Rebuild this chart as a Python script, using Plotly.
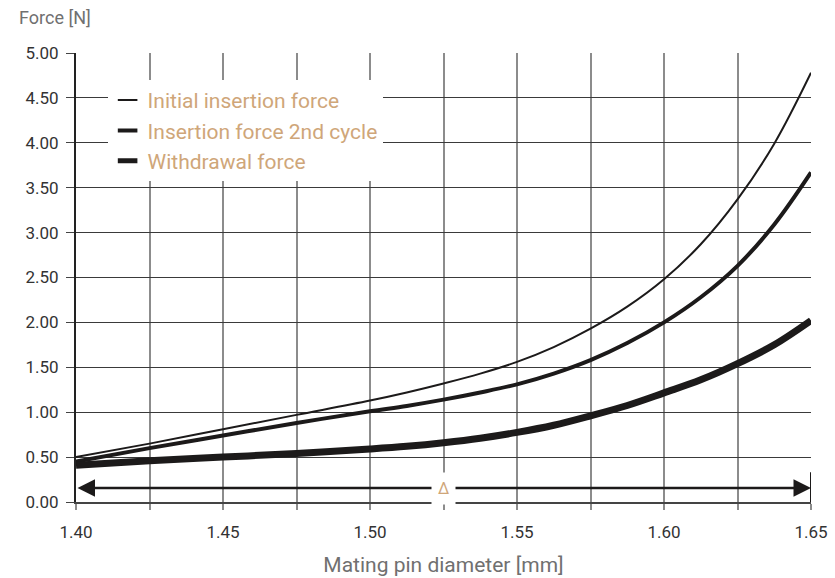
import plotly.graph_objects as go

diameter = [1.400, 1.425, 1.450, 1.475, 1.500, 1.5125, 1.525, 1.5375, 1.550, 1.5625,
            1.575, 1.5875, 1.600, 1.6125, 1.625, 1.6375, 1.650]
initial_insertion = [0.50, 0.65, 0.81, 0.97, 1.13, 1.22, 1.32, 1.43, 1.56, 1.725,
                     1.93, 2.175, 2.48, 2.87, 3.37, 3.99, 4.78]
insertion_2nd = [0.45, 0.60, 0.74, 0.88, 1.01, 1.07, 1.14, 1.22, 1.31, 1.43,
                 1.58, 1.77, 2.00, 2.28, 2.63, 3.09, 3.67]
withdrawal = [0.41, 0.46, 0.50, 0.54, 0.59, 0.62, 0.66, 0.71, 0.775, 0.855,
              0.96, 1.075, 1.215, 1.36, 1.54, 1.75, 2.02]

series_names = ["Initial insertion force", "Insertion force 2nd cycle", "Withdrawal force"]
x_ticks = [1.40, 1.45, 1.50, 1.55, 1.60, 1.65]
y_ticks = [0.0, 0.5, 1.0, 1.5, 2.0, 2.5, 3.0, 3.5, 4.0, 4.5, 5.0]
delta_range = [1.40, 1.65]

LINE = "#1c1a1a"
TAN = "#cfa679"
FONT = "Roboto, Liberation Sans, sans-serif"

fig = go.Figure()
widths = [2, 4, 7]
for name, ys, w in zip(series_names, [initial_insertion, insertion_2nd, withdrawal], widths):
    fig.add_trace(go.Scatter(x=diameter, y=ys, mode="lines", name=name,
                             line=dict(color=LINE, width=w, shape="spline", smoothing=1.0),
                             showlegend=False, hoverinfo="skip"))
for name, w in zip(series_names, [2, 4, 6]):
    fig.add_trace(go.Scatter(x=[None], y=[None], mode="markers", name=name,
                             marker=dict(symbol="line-ew", size=14, color=LINE,
                                         line=dict(color=LINE, width=w)),
                             showlegend=True))

# delta arrow
fig.add_annotation(x=delta_range[1], y=0.155, ax=delta_range[0], ay=0.155,
                   xref="x", yref="y", axref="x", ayref="y", text="",
                   showarrow=True, arrowhead=2, arrowside="end+start",
                   arrowsize=1.4, arrowwidth=2.5, arrowcolor=LINE)
fig.add_annotation(x=(delta_range[0] + delta_range[1]) / 2, y=0.155, xref="x", yref="y",
                   text="Δ", showarrow=False, bgcolor="white", borderpad=6,
                   font=dict(family=FONT, size=16, color=TAN))
fig.add_shape(type="line", x0=delta_range[1], x1=delta_range[1], y0=-0.07, y1=0.33,
              xref="x", yref="y", line=dict(color=LINE, width=2))

fig.add_annotation(x=0, y=1, xref="paper", yref="paper", xanchor="left", yanchor="top",
                   text="Force [N]", showarrow=False, xshift=-59, yshift=48,
                   font=dict(family=FONT, size=18, color="#707070"))

fig.update_layout(
    width=835, height=578,
    margin=dict(l=76, r=24, t=53, b=76),
    plot_bgcolor="white", paper_bgcolor="white",
    font=dict(family=FONT, size=17, color="#333333"),
    legend=dict(x=0.043, y=0.94, xanchor="left", yanchor="top",
                bgcolor="white", borderwidth=0, tracegroupgap=0,
                font=dict(family=FONT, size=21, color=TAN),
                itemsizing="trace"),
    xaxis=dict(range=[1.40, 1.65], tickvals=x_ticks, tickformat=".2f",
               showgrid=True, gridcolor="#8c8c8c", gridwidth=1.5,
               ticks="outside", ticklen=6, tickcolor="#8c8c8c", tickwidth=1.5,
               ticklabelstandoff=8,
               minor=dict(dtick=0.025, tick0=1.40, showgrid=True, gridcolor="#8c8c8c",
                          gridwidth=1.5, ticks="outside", ticklen=6, tickcolor="#8c8c8c"),
               showline=True, linecolor="#444444", linewidth=1.5, zeroline=False,
               automargin=False,
               title=dict(text="Mating pin diameter [mm]", standoff=16,
                          font=dict(family=FONT, size=21, color="#707070")),
               tickfont=dict(family=FONT, size=17, color="#333333")),
    yaxis=dict(range=[0, 5.0], tickvals=y_ticks, tickformat=".2f",
               showgrid=True, gridcolor="#3a3a3a", gridwidth=1,
               ticks="outside", ticklen=8, tickcolor="#444444",
               ticklabelstandoff=4,
               showline=True, linecolor="#222222", linewidth=2, zeroline=False,
               automargin=False,
               tickfont=dict(family=FONT, size=17, color="#333333")),
)

fig.write_html("out.html", config={"displayModeBar": False},
               post_script="document.body.style.margin='0';")
